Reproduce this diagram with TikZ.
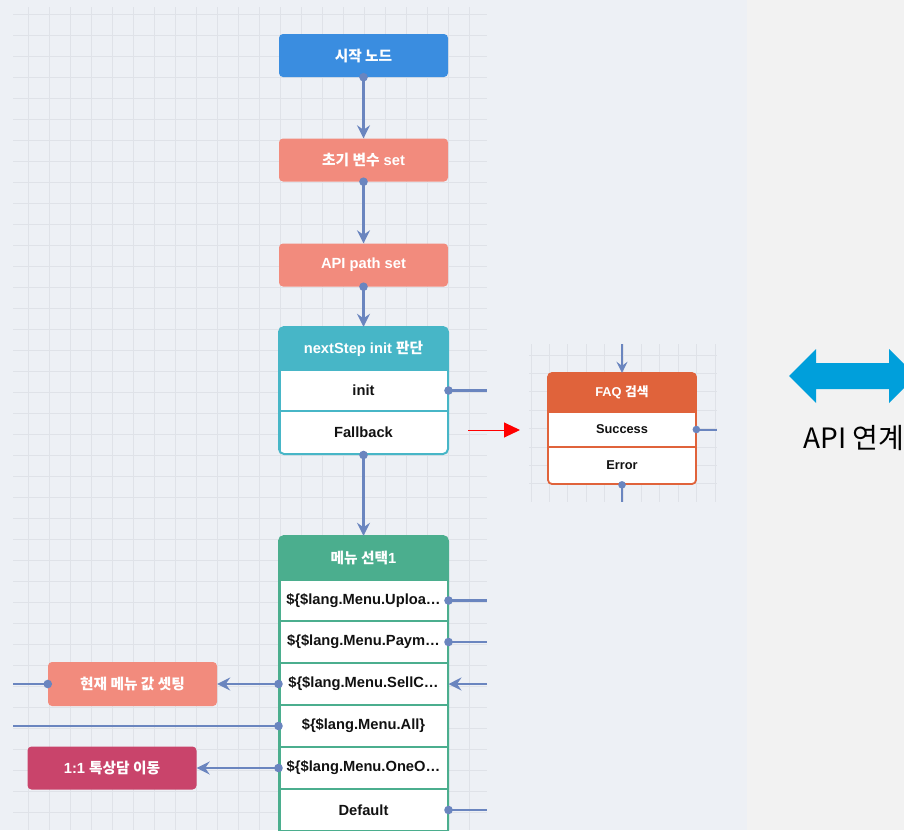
\documentclass[tikz,border=0pt]{standalone}
\usepackage{fontspec}
\setmainfont{Liberation Sans}
\newfontfamily\kr{Noto Sans CJK KR}
\newfontfamily\krb{Noto Sans CJK KR Bold}
\usetikzlibrary{arrows.meta}
\definecolor{bgL}{HTML}{EDF0F5}
\definecolor{bgR}{HTML}{F2F2F2}
\definecolor{gridC}{HTML}{DFE2E8}
\definecolor{connC}{HTML}{6A85BF}
\definecolor{blueC}{HTML}{3A8DE0}
\definecolor{salmonC}{HTML}{F28B7D}
\definecolor{tealC}{HTML}{47B6C7}
\definecolor{greenC}{HTML}{4BAE8E}
\definecolor{crimsonC}{HTML}{C9446B}
\definecolor{faqC}{HTML}{E0633B}
\definecolor{cyanC}{HTML}{009FDB}
\definecolor{rowText}{HTML}{111111}
\newcommand\K[1]{{\krb #1}}
\tikzset{
  conn/.style={draw=connC, line width=2.3pt},
  arr/.style={conn, -{Stealth[length=13pt,width=13pt,inset=4.5pt]}},
  box/.style={rectangle, rounded corners=4pt, minimum width=169pt, minimum height=43pt,
    inner sep=0pt, text=white, font=\bfseries\fontsize{14.7}{16}\selectfont},
  hdrtxt/.style={rectangle, minimum width=169pt, minimum height=43pt, inner sep=0pt,
    text=white, font=\bfseries\fontsize{14.7}{16}\selectfont},
  row/.style={rectangle, fill=white, minimum width=168pt, minimum height=42pt, inner sep=0pt,
    line width=2pt, text=rowText, font=\bfseries\fontsize{14.7}{16}\selectfont},
  gridline/.style={draw=gridC, line width=1pt}
}
\begin{document}
\begin{tikzpicture}[x=1pt,y=-1pt]
\clip (0,0) rectangle (904,830);
% backgrounds
\fill[bgL] (0,0) rectangle (747,830);
\fill[bgR] (747,0) rectangle (904,830);
% main grid
\foreach \i in {0,...,21} \draw[gridline] ({28+21*\i},7) -- ({28+21*\i},830);
\foreach \j in {0,...,38} \draw[gridline] (13,{14+21*\j}) -- (487,{14+21*\j});
% FAQ grid
\foreach \i in {0,...,10} \draw[gridline, line width=0.9pt] ({531+18.4*\i},344) -- ({531+18.4*\i},502);
\foreach \j in {0,...,7} \draw[gridline, line width=0.9pt] (529,{355+18.4*\j}) -- (717,{355+18.4*\j});

% simple boxes
\node[box, fill=blueC] (start) at (363.5,55.5) {\K{시작 노드}};
\node[box, fill=salmonC] (var) at (363.5,160) {\K{초기 변수} set};
\node[box, fill=salmonC] (api) at (363.5,265) {API path set};

% nextStep box
\fill[tealC, rounded corners=5pt] (279,327) rectangle (448,454);
\node[hdrtxt] (ns) at (363.5,348.5) {nextStep init \K{판단}};
\begin{scope}
\clip[rounded corners=5pt] (279,327) rectangle (448,454);
\node[row, draw=tealC] (nsinit) at (363.5,390.5) {init};
\node[row, draw=tealC, minimum height=43pt] (nsfb) at (363.5,432.5) {Fallback};
\end{scope}
\draw[tealC, line width=2pt, rounded corners=5pt] (279,327) rectangle (448,454);

% FAQ box
\fill[faqC, rounded corners=4pt] (548,373) rectangle (696,484);
\node[hdrtxt, minimum width=148pt, minimum height=39pt, font=\bfseries\fontsize{12.8}{14}\selectfont] (faq) at (622,392.5) {FAQ \K{검색}};
\begin{scope}
\clip[rounded corners=4pt] (548,373) rectangle (696,484);
\node[row, draw=faqC, minimum width=147pt, minimum height=35pt, line width=1.7pt, font=\bfseries\fontsize{12.8}{14}\selectfont] (fsucc) at (622,429.5) {Success};
\node[row, draw=faqC, minimum width=147pt, minimum height=37pt, line width=1.7pt, font=\bfseries\fontsize{12.8}{14}\selectfont] (ferr) at (622,465.5) {Error};
\end{scope}
\draw[faqC, line width=1.8pt, rounded corners=4pt] (548,373) rectangle (696,484);

% menu box
\fill[greenC, rounded corners=5pt] (279,536) rectangle (448,852);
\node[hdrtxt, minimum height=44pt] (menu) at (363.5,558) {\K{메뉴 선택}1};
\begin{scope}
\clip[rounded corners=5pt] (279,536) rectangle (448,852);
\node[row, draw=greenC] (m1) at (363.5,600.5) {\$\{\$lang.Menu.Uploa…};
\node[row, draw=greenC] (m2) at (363.5,642) {\$\{\$lang.Menu.Paym…};
\node[row, draw=greenC] (m3) at (363.5,684) {\$\{\$lang.Menu.SellC…};
\node[row, draw=greenC] (m4) at (363.5,726) {\$\{\$lang.Menu.All\}};
\node[row, draw=greenC] (m5) at (363.5,768) {\$\{\$lang.Menu.OneO…};
\node[row, draw=greenC] (m6) at (363.5,810) {Default};
\end{scope}
\draw[greenC, line width=2pt, rounded corners=5pt] (279,536) rectangle (448,852);

% side boxes
\node[box, fill=salmonC, minimum height=44pt] (setmenu) at (132.5,684) {\K{현재 메뉴 값 셋팅}};
\node[box, fill=crimsonC] (talk) at (112,768) {1:1 \K{톡상담 이동}};

% free ends
\coordinate (initR) at (487,390.5);
\coordinate (redA) at (468,430);
\coordinate (redB) at (520,430);
\coordinate (faqTop) at (622,344);
\coordinate (faqBot) at (622,502);
\coordinate (succR) at (717,429.5);
\coordinate (m1R) at (487,600.5);
\coordinate (m2R) at (487,642);
\coordinate (m3R) at (487,684);
\coordinate (setL) at (13,684);
\coordinate (m4L) at (13,726);
\coordinate (m6R) at (487,810);

% connectors
\draw[arr] (start.south) -- (var.north);
\draw[arr] (var.south) -- (api.north);
\draw[arr] (api.south) -- (ns.north);
\draw[conn] (nsinit.east) -- (initR);
\draw[arr] (nsfb.south) -- (menu.north);
\draw[red, line width=1pt, -{Triangle[length=16pt,width=15pt]}] (redA) -- (redB);
\draw[conn, line width=2pt, -{Stealth[length=11pt,width=11pt,inset=4pt]}] (faqTop) -- (faq.north);
\draw[conn, line width=2pt] (ferr.south) -- (faqBot);
\draw[conn, line width=2pt] (fsucc.east) -- (succR);
\draw[conn] (m1.east) -- (m1R);
\draw[conn] (m2.east) -- (m2R);
\draw[arr] (m3.west) -- (setmenu.east);
\draw[arr] (m3R) -- (m3.east);
\draw[conn] (setL) -- (setmenu.west);
\draw[conn] (m4.west) -- (m4L);
\draw[arr] (m5.west) -- (talk.east);
\draw[conn] (m6.east) -- (m6R);

% dots
\foreach \p in {start.south, var.south, api.south, nsinit.east, nsfb.south,
  m1.east, m2.east, m3.west, setmenu.west, m4.west, m5.west, m6.east}
  \fill[connC] (\p) circle (4.3pt);
\foreach \p in {fsucc.east, ferr.south}
  \fill[connC] (\p) circle (3.8pt);

% API link double arrow
\fill[cyanC] (789,376) -- (816,349) -- (816,363) -- (889,363) -- (889,349) -- (916,376)
  -- (889,403) -- (889,389) -- (816,389) -- (816,403) -- cycle;
\node[anchor=base, inner sep=0pt, font=\kr\fontsize{28}{32}\selectfont] (apilink) at (854,448) {API 연계};
\end{tikzpicture}
\end{document}
